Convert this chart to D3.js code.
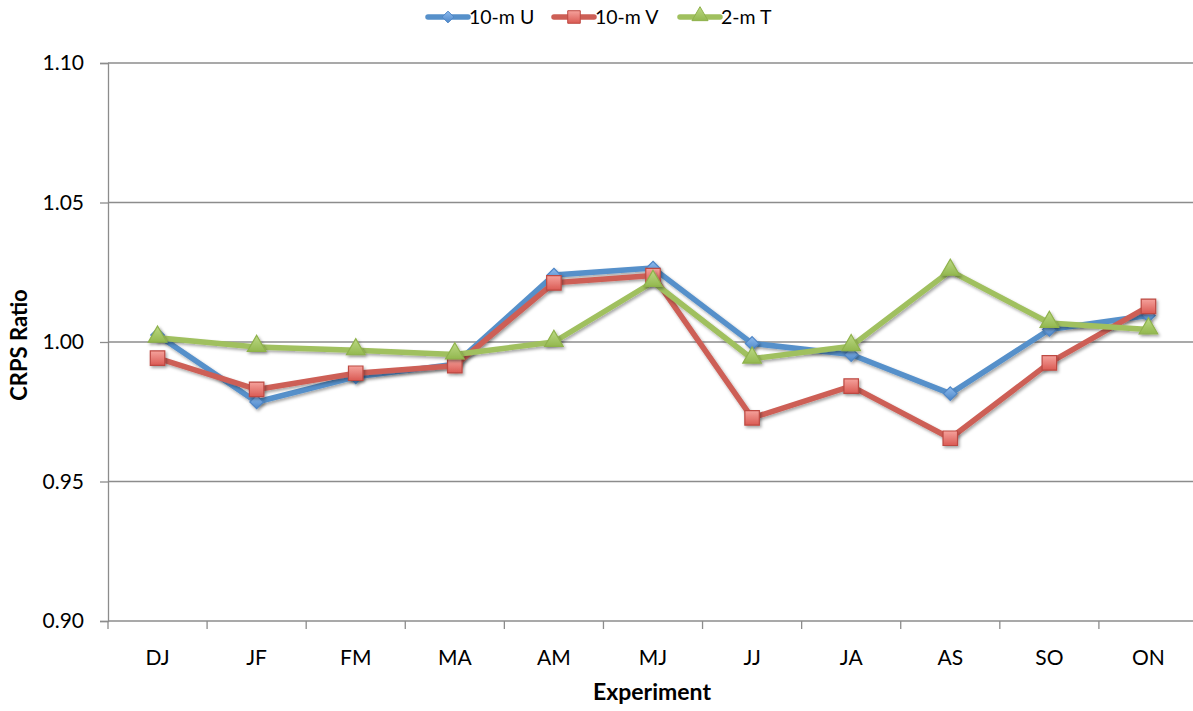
<!DOCTYPE html>
<html>
<head>
<meta charset="utf-8">
<script src="https://cdn.jsdelivr.net/npm/d3@7"></script>
<style>
  html, body { margin: 0; padding: 0; background: #fff; }
  svg { display: block; font-family: Lato, "Open Sans", "Liberation Sans", sans-serif; }
</style>
</head>
<body>
<svg id="chart" width="1193" height="711"></svg>
<script>
// Two-month experiment windows
const categories = ["DJ", "JF", "FM", "MA", "AM", "MJ", "JJ", "JA", "AS", "SO", "ON"];

// CRPS ratio per variable
const windU = [1.0025, 0.9785, 0.9875, 0.9920, 1.0240, 1.0265, 0.9995, 0.9955, 0.9815, 1.0045, 1.0095];
const windV = [0.9942, 0.9830, 0.9888, 0.9915, 1.0212, 1.0238, 0.9728, 0.9842, 0.9655, 0.9925, 1.0128];
const temp2m = [1.0015, 0.9982, 0.9970, 0.9955, 1.0000, 1.0215, 0.9940, 0.9985, 1.0255, 1.0068, 1.0045];

const yTicks = [0.90, 0.95, 1.00, 1.05, 1.10];

const seriesNames = ["10-m U", "10-m V", "2-m T"];

const series = [
  { name: seriesNames[0], values: windU, line: "#5690CA", marker: "diamond" },
  { name: seriesNames[1], values: windV, line: "#CD5F56", marker: "square" },
  { name: seriesNames[2], values: temp2m, line: "#A0C05E", marker: "triangle" }
];

const svg = d3.select("#chart");
const margin = { left: 108, top: 63, right: 1198, bottom: 621 };

const x = d3.scaleBand().domain(categories).range([margin.left, margin.right]).paddingInner(0).paddingOuter(0);
const y = d3.scaleLinear().domain([0.90, 1.10]).range([margin.bottom, margin.top]);
const cx = c => x(c) + x.bandwidth() / 2;

// gradients and shadow
const defs = svg.append("defs");
const grad = (id, c1, c2) => {
  const g = defs.append("linearGradient").attr("id", id).attr("x1", 0).attr("y1", 0).attr("x2", 0).attr("y2", 1);
  g.append("stop").attr("offset", "0%").attr("stop-color", c1);
  g.append("stop").attr("offset", "100%").attr("stop-color", c2);
};
grad("g-u", "#8DBBEE", "#4C86C8");
grad("g-v", "#F5A29C", "#DA5A53");
grad("g-t", "#BCD985", "#93B84F");
const f = defs.append("filter").attr("id", "shadow").attr("x", "-50%").attr("y", "-50%").attr("width", "200%").attr("height", "200%");
f.append("feDropShadow").attr("dx", 1.5).attr("dy", 2).attr("stdDeviation", 1.6).attr("flood-color", "#000").attr("flood-opacity", 0.35);

// horizontal gridlines
svg.append("g").selectAll("line").data(yTicks.filter(t => t > 0.90)).join("line")
  .attr("x1", margin.left).attr("x2", 1193)
  .attr("y1", d => y(d)).attr("y2", d => y(d))
  .attr("stroke", "#8C8C8C").attr("stroke-width", 1.3);

// y axis
const yAxis = d3.axisLeft(y).tickValues(yTicks).tickFormat(d3.format(".2f")).tickSize(8).tickPadding(16);
const gy = svg.append("g").attr("transform", `translate(${margin.left},0)`).call(yAxis);
gy.select(".domain").attr("stroke", "#8C8C8C").attr("stroke-width", 1.3);
gy.selectAll(".tick line").attr("stroke", "#8C8C8C").attr("stroke-width", 1.3);
gy.selectAll(".tick text").attr("font-size", 21).attr("fill", "#000").attr("font-family", "Lato, 'Open Sans', sans-serif");

// x axis
const gx = svg.append("g").attr("transform", `translate(0,${margin.bottom})`);
gx.append("line").attr("x1", margin.left).attr("x2", 1193).attr("y1", 0).attr("y2", 0)
  .attr("stroke", "#8C8C8C").attr("stroke-width", 1.3);
const boundaries = categories.map(c => x(c));
gx.selectAll("line.tk").data(boundaries).join("line").attr("class", "tk")
  .attr("x1", d => d).attr("x2", d => d).attr("y1", 0).attr("y2", 8)
  .attr("stroke", "#8C8C8C").attr("stroke-width", 1.3);
gx.selectAll("text").data(categories).join("text")
  .attr("x", d => cx(d)).attr("y", 44)
  .attr("text-anchor", "middle").attr("font-size", 21).attr("fill", "#000")
  .text(d => d);

// axis titles
svg.append("text").attr("x", 652).attr("y", 700).attr("text-anchor", "middle")
  .attr("font-size", 23).attr("font-weight", "bold").text("Experiment");
svg.append("text").attr("transform", `translate(27,345) rotate(-90)`).attr("text-anchor", "middle")
  .attr("font-size", 22).attr("font-weight", "bold").text("CRPS Ratio");

// marker shapes
const symbolPath = (kind, size) => {
  if (kind === "diamond") return d3.symbol().type(d3.symbolDiamond2 || d3.symbolDiamond).size(size * 0.9)();
  if (kind === "square") return d3.symbol().type(d3.symbolSquare).size(size)();
  return d3.symbol().type(d3.symbolTriangle).size(size)();
};
const markerStyle = {
  diamond: { fill: "url(#g-u)", stroke: "#4F86C6", size: 130 },
  square: { fill: "url(#g-v)", stroke: "#BD4A43", size: 210 },
  triangle: { fill: "url(#g-t)", stroke: "#8FB24C", size: 150 }
};

const lineGen = d3.line().x((d, i) => cx(categories[i])).y(d => y(d));

series.forEach(s => {
  const g = svg.append("g");
  g.append("path").datum(s.values).attr("d", lineGen)
    .attr("fill", "none").attr("stroke", s.line).attr("stroke-width", 5.5)
    .attr("stroke-linejoin", "round").attr("filter", "url(#shadow)");
  const ms = markerStyle[s.marker];
  g.selectAll("path.m").data(s.values).join("path").attr("class", "m")
    .attr("d", symbolPath(s.marker, ms.size))
    .attr("transform", (d, i) => `translate(${cx(categories[i])},${y(d) + (s.marker === "triangle" ? -1 : 0)})`)
    .attr("fill", ms.fill).attr("stroke", ms.stroke).attr("stroke-width", 1.2)
    .attr("filter", "url(#shadow)");
});

// legend
const legendX = [428, 554, 680];
const lg = svg.append("g");
series.forEach((s, i) => {
  const lx = legendX[i];
  const ly = 17;
  lg.append("line").attr("x1", lx).attr("x2", lx + 40).attr("y1", ly).attr("y2", ly)
    .attr("stroke", s.line).attr("stroke-width", 5.5).attr("stroke-linecap", "round");
  const ms = markerStyle[s.marker];
  lg.append("path").attr("d", symbolPath(s.marker, ms.size * 0.75))
    .attr("transform", `translate(${lx + 20},${ly + (s.marker === "triangle" ? -1 : 0)})`)
    .attr("fill", ms.fill).attr("stroke", ms.stroke).attr("stroke-width", 1);
  lg.append("text").attr("x", lx + 41).attr("y", ly + 7)
    .attr("font-size", 19.5).attr("fill", "#000").text(s.name);
});
</script>
</body>
</html>
